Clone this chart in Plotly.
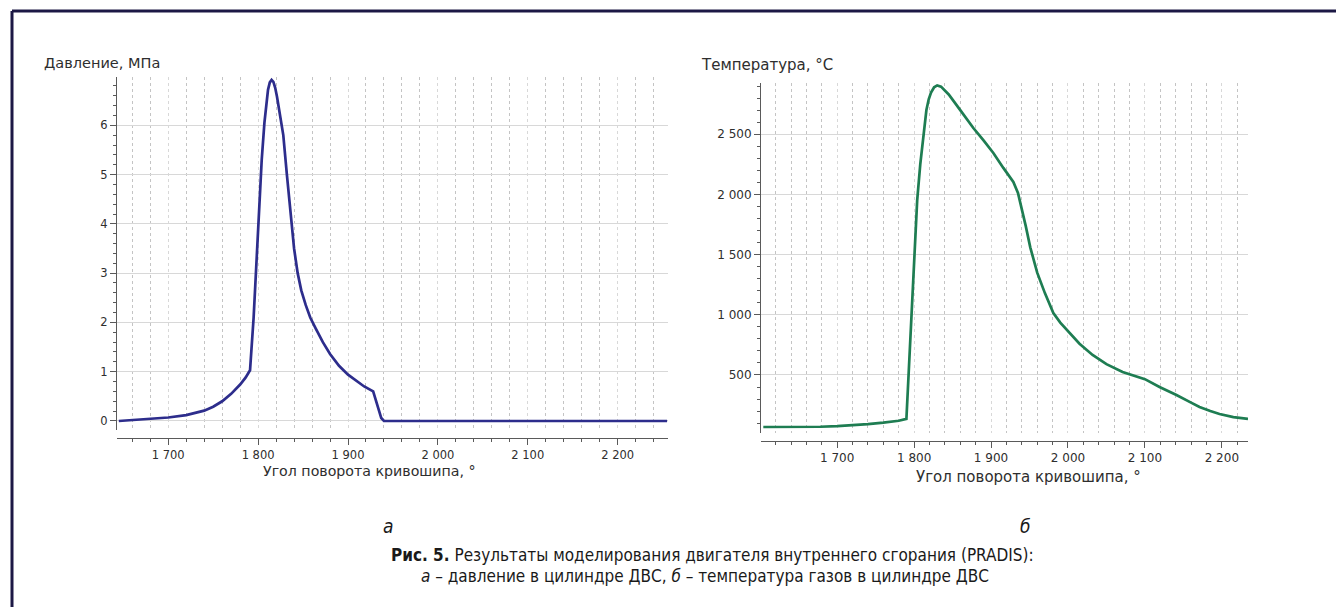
import plotly.graph_objects as go

W, H = 1336, 607

# ---------------- data ----------------
angle_p = [1645, 1660, 1680, 1700, 1720, 1740, 1750, 1760, 1770, 1780, 1786, 1791,
           1795, 1798, 1801, 1804, 1807, 1809, 1811, 1813, 1815, 1817, 1819, 1821,
           1824, 1828, 1832, 1836, 1840, 1844, 1848, 1853, 1858, 1864, 1872, 1880,
           1890, 1900, 1910, 1918, 1928, 1931, 1934, 1937, 1940, 2000, 2100, 2200, 2255]
pressure = [0.0, 0.02, 0.04, 0.07, 0.12, 0.21, 0.29, 0.40, 0.55, 0.74, 0.88, 1.03,
            2.1, 3.2, 4.3, 5.3, 6.05, 6.45, 6.72, 6.87, 6.92, 6.88, 6.76, 6.58,
            6.25, 5.8, 5.0, 4.2, 3.5, 3.0, 2.65, 2.35, 2.1, 1.88, 1.6, 1.36,
            1.12, 0.94, 0.8, 0.7, 0.60, 0.42, 0.2, 0.06, 0.0, 0.0, 0.0, 0.0, 0.0]

angle_t = [1604, 1640, 1678, 1700, 1720, 1740, 1760, 1780, 1790, 1797, 1804, 1808,
           1812, 1816, 1819, 1822, 1826, 1830, 1835, 1845, 1860, 1877, 1890, 1903,
           1916, 1929, 1935, 1940, 1945, 1951, 1960, 1970, 1981, 1990, 1999, 2015,
           2032, 2050, 2071, 2084, 2100, 2119, 2141, 2160, 2171, 2185, 2197, 2215, 2234]
temperature = [68, 68, 70, 75, 82, 92, 104, 120, 135, 1050, 1950, 2250,
               2500, 2700, 2790, 2845, 2890, 2905, 2895, 2830, 2700, 2551, 2450, 2344,
               2220, 2103, 2012, 1880, 1740, 1560, 1350, 1180, 1015, 935, 873, 760,
               666, 590, 525, 500, 465, 400, 334, 270, 234, 200, 176, 150, 135]

x_tickvals = [1700, 1800, 1900, 2000, 2100, 2200]
x_ticktext = ["1 700", "1 800", "1 900", "2 000", "2 100", "2 200"]
p_tickvals = [0, 1, 2, 3, 4, 5, 6]
p_ticktext = ["0", "1", "2", "3", "4", "5", "6"]
t_tickvals = [500, 1000, 1500, 2000, 2500]
t_ticktext = ["500", "1 000", "1 500", "2 000", "2 500"]

# ---------------- layout helpers ----------------
def fx(p):
    return p / W

def fy(p):
    return 1 - p / H

AX_COL = "#5a5a5a"
TXT_COL = "#2e2e2e"
GRID_MIN = "#c4c4c4"
GRID_MAJ = "#d8d8d8"
TICK_FONT = "DejaVu Sans"

fig = go.Figure()
fig.add_trace(go.Scatter(x=angle_p, y=pressure, mode="lines",
                         line=dict(color="#2d2d8c", width=2.7),
                         xaxis="x", yaxis="y", showlegend=False))
fig.add_trace(go.Scatter(x=angle_t, y=temperature, mode="lines",
                         line=dict(color="#1e7d52", width=2.7),
                         xaxis="x2", yaxis="y2", showlegend=False))

def xaxis_cfg(dom, rng, pos, size):
    return dict(domain=dom, range=rng, anchor="free", position=pos,
                tickmode="array", tickvals=x_tickvals, ticktext=x_ticktext,
                showline=True, linecolor=AX_COL, linewidth=1,
                ticks="outside", ticklen=6, tickcolor=AX_COL, tickwidth=1,
                tickfont=dict(family=TICK_FONT, size=size, color=TXT_COL),
                showgrid=True, gridcolor=GRID_MAJ, gridwidth=1, griddash="dot",
                minor=dict(tick0=1600, dtick=20, ticks="outside", ticklen=3,
                           tickcolor=AX_COL, showgrid=True, gridcolor=GRID_MIN,
                           griddash="dot", gridwidth=1),
                zeroline=False, fixedrange=True)

def yaxis_cfg(dom, rng, anchor, tv, tt, mdt, size):
    return dict(domain=dom, range=rng, anchor=anchor,
                tickmode="array", tickvals=tv, ticktext=tt,
                showline=True, linecolor=AX_COL, linewidth=1,
                ticks="outside", ticklen=6, tickcolor=AX_COL, tickwidth=1,
                tickfont=dict(family=TICK_FONT, size=size, color=TXT_COL),
                showgrid=True, gridcolor=GRID_MAJ, gridwidth=1,
                minor=dict(dtick=mdt, ticks="outside", ticklen=3,
                           tickcolor=AX_COL, showgrid=False),
                zeroline=False, fixedrange=True)

layout = dict(
    width=W, height=H,
    margin=dict(l=0, r=0, t=0, b=0),
    paper_bgcolor="white", plot_bgcolor="white",
    xaxis=xaxis_cfg([fx(117), fx(668)], [1643, 2256], fy(438), 11.5),
    yaxis=yaxis_cfg([fy(430), fy(77)], [-0.183, 6.98], "x",
                    p_tickvals, p_ticktext, 0.2, 11.5),
    xaxis2=xaxis_cfg([fx(761), fx(1248)], [1601, 2234], fy(441), 12),
    yaxis2=yaxis_cfg([fy(433), fy(83)], [18, 2925], "x2",
                     t_tickvals, t_ticktext, 100, 12),
)
fig.update_layout(**layout)

ann = []
def text(s, x, y, size, family=TICK_FONT, xanchor="left", color=TXT_COL):
    ann.append(dict(text=s, x=fx(x), y=fy(y), xref="paper", yref="paper",
                    xanchor=xanchor, yanchor="middle", showarrow=False,
                    font=dict(family=family, size=size, color=color)))

text("Давление, МПа", 42, 63, 14.5)
text("Температура, °C", 699, 65, 15)
text("Угол поворота кривошипа, °", 369, 471, 14.2, xanchor="center")
text("Угол поворота кривошипа, °", 1028, 477, 15, xanchor="center")

CAP_FONT = "DejaVu Sans Condensed, Liberation Sans Narrow, Roboto"
text("<i>а</i>", 388, 526, 19, family=CAP_FONT, xanchor="center", color="#1a1a1a")
text("<i>б</i>", 1025, 526, 19, family=CAP_FONT, xanchor="center", color="#1a1a1a")
text("<b>Рис. 5.</b> Результаты моделирования двигателя внутреннего сгорания (PRADIS):",
     712, 555, 17, family=CAP_FONT, xanchor="center", color="#1a1a1a")
text("<i>а</i> – давление в цилиндре ДВС, <i>б</i> – температура газов в цилиндре ДВС",
     705, 576, 17, family=CAP_FONT, xanchor="center", color="#1a1a1a")

fig.update_layout(annotations=ann)

FRAME = "#1c1845"
fig.update_layout(shapes=[
    dict(type="line", xref="paper", yref="paper", x0=fx(12), x1=1.0,
         y0=fy(11), y1=fy(11), line=dict(color=FRAME, width=3)),
    dict(type="line", xref="paper", yref="paper", x0=fx(12), x1=fx(12),
         y0=fy(11), y1=0, line=dict(color=FRAME, width=3)),
])

fig.write_html("out.html")
